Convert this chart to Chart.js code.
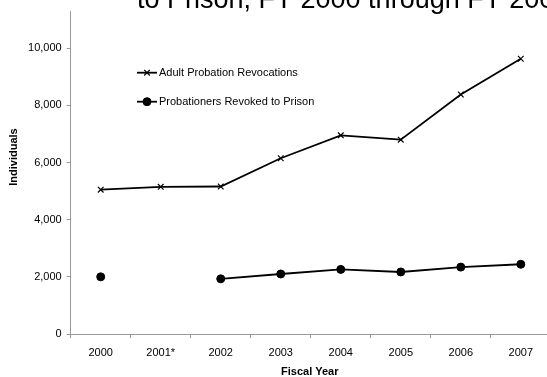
<!DOCTYPE html>
<html>
<head>
<meta charset="utf-8">
<script src="https://cdn.jsdelivr.net/npm/chart.js@4/dist/chart.umd.min.js"></script>
<style>
html,body{margin:0;padding:0;background:#fff;overflow:hidden;}
#wrap{position:absolute;left:0;top:0;width:556px;height:377px;}
</style>
</head>
<body>
<div id="wrap"><canvas id="c" width="556" height="377"></canvas></div>
<script>
const categories = ['2000','2001*','2002','2003','2004','2005','2006','2007'];
const revocations = [5050, 5150, 5160, 6150, 6950, 6800, 8380, 9630];
const revokedToPrison = [2000, null, 1930, 2100, 2260, 2170, 2340, 2440];
const yTickValues = [0, 2000, 4000, 6000, 8000, 10000];
const titleText = 'to Prison, FY 2000 through FY 2007';
const yTitle = 'Individuals';
const xTitle = 'Fiscal Year';
const FONT = '"Liberation Sans", Arial, sans-serif';

const overlay = {
  id: 'overlay',
  afterDraw(chart) {
    const ctx = chart.ctx;
    const ca = chart.chartArea;
    ctx.save();
    ctx.fillStyle = '#000';
    ctx.font = '27px ' + FONT;
    ctx.textAlign = 'left';
    ctx.textBaseline = 'alphabetic';
    ctx.fillText(titleText, 137, 8);
    ctx.font = 'bold 11px ' + FONT;
    ctx.textAlign = 'center';
    ctx.textBaseline = 'middle';
    ctx.fillText(xTitle, (ca.left + ca.right) / 2 - 1, 372);
    ctx.translate(14, 157);
    ctx.rotate(-Math.PI / 2);
    ctx.fillText(yTitle, 0, 0);
    ctx.restore();
    ctx.save();
    const rows = [72.7, 101.7];
    chart.data.datasets.forEach((ds, i) => {
      const y = rows[i];
      ctx.strokeStyle = ds.borderColor;
      ctx.lineWidth = ds.borderWidth;
      ctx.beginPath();
      ctx.moveTo(137, y);
      ctx.lineTo(157, y);
      ctx.stroke();
      ctx.fillStyle = ds.pointBackgroundColor;
      ctx.strokeStyle = ds.pointBorderColor;
      ctx.lineWidth = ds.pointBorderWidth;
      Chart.helpers.drawPoint(ctx, {
        pointStyle: ds.pointStyle,
        radius: ds.pointRadius,
        borderWidth: ds.pointBorderWidth
      }, 147, y);
      ctx.fillStyle = '#000';
      ctx.font = '11px ' + FONT;
      ctx.textAlign = 'left';
      ctx.textBaseline = 'middle';
      ctx.fillText(ds.label, 159, y);
    });
    ctx.restore();
  }
};

new Chart(document.getElementById('c'), {
  type: 'line',
  data: {
    labels: categories,
    datasets: [
      {
        label: 'Adult Probation Revocations',
        data: revocations,
        borderColor: '#000',
        backgroundColor: '#000',
        borderWidth: 1.8,
        pointStyle: 'crossRot',
        pointRadius: 4,
        pointBorderWidth: 1.2,
        pointBorderColor: '#000',
        pointBackgroundColor: '#000',
        tension: 0
      },
      {
        label: 'Probationers Revoked to Prison',
        data: revokedToPrison,
        borderColor: '#000',
        backgroundColor: '#000',
        borderWidth: 1.8,
        pointStyle: 'circle',
        pointRadius: 4,
        pointBorderWidth: 1,
        pointBorderColor: '#000',
        pointBackgroundColor: '#000',
        spanGaps: false,
        tension: 0
      }
    ]
  },
  options: {
    responsive: false,
    animation: false,
    devicePixelRatio: 1,
    layout: { padding: { top: 8, left: 0, right: 1, bottom: 0 } },
    plugins: { legend: { display: false }, tooltip: { enabled: false }, title: { display: false } },
    scales: {
      x: {
        type: 'category',
        offset: true,
        grid: { display: true, drawOnChartArea: false, drawTicks: true, tickLength: 4, color: '#999', offset: true },
        border: { display: true, color: '#999', width: 1 },
        ticks: { color: '#000', font: { family: FONT, size: 11 }, padding: 8, maxRotation: 0, autoSkip: false },
        afterFit(scale) { scale.height = 43; }
      },
      y: {
        min: 0,
        max: 11280,
        grid: { display: true, drawOnChartArea: false, drawTicks: true, tickLength: 4, color: '#999' },
        border: { display: true, color: '#999', width: 1 },
        ticks: {
          color: '#000', font: { family: FONT, size: 11 }, padding: 5,
          callback: (v) => v.toLocaleString('en-US')
        },
        afterBuildTicks(scale) { scale.ticks = yTickValues.map(v => ({ value: v })); },
        afterFit(scale) { scale.width = 70.7; }
      }
    }
  },
  plugins: [overlay]
});
</script>
</body>
</html>
